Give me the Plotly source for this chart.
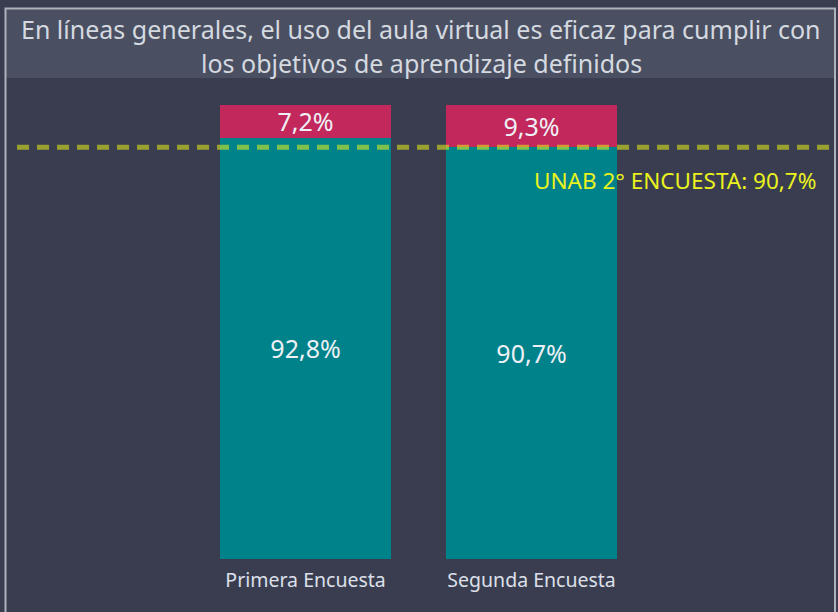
import plotly.graph_objects as go

categories = ["Primera Encuesta", "Segunda Encuesta"]
si_values = [92.8, 90.7]
no_values = [7.2, 9.3]
benchmark_value = 90.7
benchmark_label = "UNAB 2° ENCUESTA: 90,7%"
title_lines = ["En líneas generales, el uso del aula virtual es eficaz para cumplir con",
               "los objetivos de aprendizaje definidos"]

def fmt(v):
    return f"{v:.1f}".replace(".", ",") + "%"

BG = "#393d4f"
TEAL = "#00828a"
CRIMSON = "#c2285c"
FONT = "Noto Sans"

fig = go.Figure()
fig.add_trace(go.Bar(
    x=categories, y=si_values, marker_color=TEAL, marker_line_width=0,
    text=[fmt(v) for v in si_values], textposition="inside", insidetextanchor="middle",
    textfont=dict(size=25, color="#eef0f6", family=FONT), constraintext="none",
    width=0.757, hoverinfo="skip"))
fig.add_trace(go.Bar(
    x=categories, y=no_values, marker_color=CRIMSON, marker_line_width=0,
    text=[fmt(v) for v in no_values], textposition="inside", insidetextanchor="middle",
    textfont=dict(size=25, color="#eef0f6", family=FONT), constraintext="none",
    width=0.757, hoverinfo="skip"))

H = 474.0
def py(p):
    return (559.0 - p) / H

shapes = [
    dict(type="rect", xref="paper", yref="paper", x0=5/838, x1=835/838, y0=py(78), y1=py(8),
         fillcolor="#4a5061", line_width=0, layer="below"),
    dict(type="rect", xref="paper", yref="paper", x0=5.5/838, x1=835/838, y0=py(630), y1=py(8.5),
         fillcolor="rgba(0,0,0,0)", line=dict(color="#aeb2ba", width=2), layer="above"),
    dict(type="line", xref="paper", yref="y", x0=17/838, x1=835/838,
         y0=benchmark_value, y1=benchmark_value,
         line=dict(color="rgba(234,246,25,0.55)", width=5, dash="12px,8px")),
]

annotations = [
    dict(text=title_lines[0], xref="paper", yref="paper", x=421/838, y=py(29), showarrow=False,
         xanchor="center", yanchor="middle", font=dict(size=25, color="#d5d9e0", family=FONT)),
    dict(text=title_lines[1], xref="paper", yref="paper", x=421/838, y=py(63), showarrow=False,
         xanchor="center", yanchor="middle", font=dict(size=25, color="#d5d9e0", family=FONT)),
    dict(text=benchmark_label, xref="paper", yref="paper", x=818/838, y=py(180), showarrow=False,
         xanchor="right", yanchor="middle", font=dict(size=22.5, color="#eaf21e", family=FONT)),
]

fig.update_layout(
    barmode="stack", width=838, height=612,
    margin=dict(l=0, r=0, t=85, b=53, pad=0),
    paper_bgcolor=BG, plot_bgcolor=BG, showlegend=False,
    shapes=shapes, annotations=annotations,
    xaxis=dict(range=[-1.352, 2.356], showgrid=False, zeroline=False, showline=False,
               tickfont=dict(size=19.5, color="#dde0ea", family=FONT), ticks="",
               ticklabelstandoff=7, fixedrange=True),
    yaxis=dict(range=[0, 104.4], visible=False, showgrid=False, fixedrange=True),
)
fig.write_html("out.html", config={"displayModeBar": False, "staticPlot": True},
               post_script="document.body.style.margin='0px';document.body.style.background='#393d4f';")
